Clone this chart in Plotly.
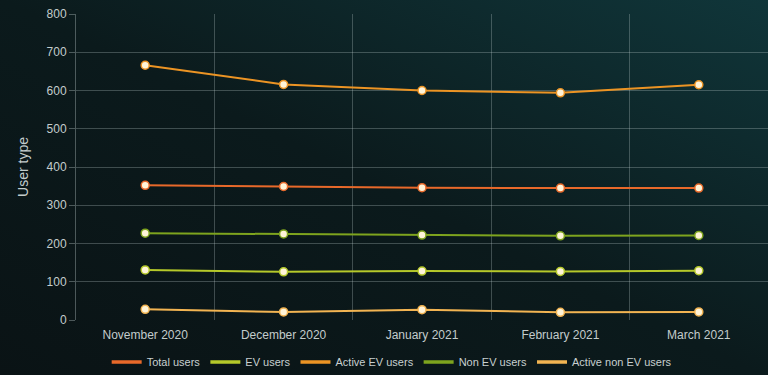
import plotly.graph_objects as go
import base64

months = ["November 2020", "December 2020", "January 2021", "February 2021", "March 2021"]
total_users = [352, 349, 346, 345, 345]
ev_users = [131, 126, 128, 127, 129]
active_ev_users = [666, 616, 600, 594, 615]
non_ev_users = [227, 225, 222, 220, 221]
active_non_ev_users = [28, 21, 27, 20, 21]

series = [
    ("Total users", total_users, "#e8692a"),
    ("EV users", ev_users, "#b5c92a"),
    ("Active EV users", active_ev_users, "#ec9424"),
    ("Non EV users", non_ev_users, "#7ea41e"),
    ("Active non EV users", active_non_ev_users, "#f2b452"),
]

fig = go.Figure()
for name, vals, col in series:
    fig.add_trace(go.Scatter(
        x=months, y=vals, name=name, mode="lines+markers", showlegend=False,
        line=dict(color=col, width=2),
        marker=dict(size=8, color="#fff4d8", line=dict(color=col, width=1.5)),
    ))
for name, vals, col in series:
    fig.add_trace(go.Scatter(
        x=[None], y=[None], name=name, mode="lines", showlegend=True,
        line=dict(color=col, width=3.5), hoverinfo="skip",
    ))

svg = ('<svg xmlns="http://www.w3.org/2000/svg" width="768" height="375">'
       '<defs><linearGradient id="g" x1="0" y1="1" x2="1" y2="0">'
       '<stop offset="0" stop-color="#0a1315"/>'
       '<stop offset="0.5" stop-color="#0b1a1c"/>'
       '<stop offset="1" stop-color="#10363a"/>'
       '</linearGradient></defs>'
       '<rect width="768" height="375" fill="url(#g)"/></svg>')
uri = "data:image/svg+xml;base64," + base64.b64encode(svg.encode()).decode()

fig.update_layout(
    width=768, height=375,
    margin=dict(l=76, r=0, t=14, b=55, autoexpand=False),
    paper_bgcolor="#0b1618", plot_bgcolor="rgba(0,0,0,0)",
    font=dict(family="Liberation Sans, Arial, sans-serif", color="#c3cccc", size=12),
    images=[dict(source=uri, xref="paper", yref="paper", x=-0.11, y=1.05,
                 sizex=1.11, sizey=1.24, xanchor="left", yanchor="top",
                 sizing="stretch", layer="below")],
    showlegend=True,
    legend=dict(orientation="h", x=0.51, xref="container", xanchor="center",
                y=0.035, yref="container", yanchor="middle",
                font=dict(size=11, color="#c8d0d0"),
                bgcolor="rgba(0,0,0,0)", tracegroupgap=0),
    hovermode="x",
)
fig.update_xaxes(
    type="category", tickson="boundaries", range=[-0.5, 4.5],
    showgrid=True, gridcolor="rgba(200,215,215,0.28)", gridwidth=1,
    showline=False, zeroline=False, ticks="", ticklabelstandoff=6,
    tickfont=dict(size=12, color="#c3cccc"),
)
fig.update_yaxes(
    range=[0, 800], dtick=100, showgrid=True, gridcolor="rgba(200,215,215,0.28)",
    zeroline=False, showline=True, linecolor="rgba(200,215,215,0.35)",
    ticks="outside", ticklen=6, tickcolor="rgba(200,215,215,0.35)",
    tickfont=dict(size=12, color="#c3cccc"),
    title=dict(text="User type", font=dict(size=14, color="#c3cccc"), standoff=14),
)
fig.write_html("out.html")
